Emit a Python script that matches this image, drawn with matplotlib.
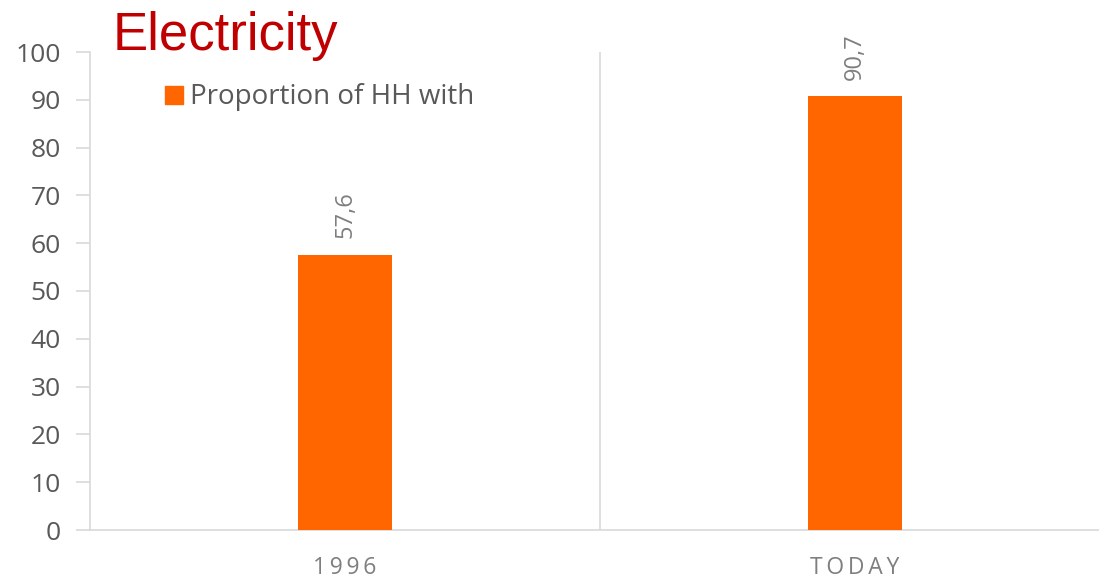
import matplotlib
matplotlib.use("Agg")
import matplotlib.pyplot as plt
from matplotlib.patches import Rectangle

categories = ["1996", "TODAY"]
values = [57.6, 90.7]
value_labels = ["57,6", "90,7"]
yticks = [0, 10, 20, 30, 40, 50, 60, 70, 80, 90, 100]
title = "Electricity"
legend_label = "Proportion of HH with"

orange = "#FF6600"
grid_col = "#D9D9D9"
tick_col = "#595959"
lab_col = "#7F7F7F"

fig = plt.figure(figsize=(10.99, 5.83), dpi=100)
ax = fig.add_axes([90/1099, 53/583, (1110-90)/1099, (530-52)/583])

x = list(range(len(categories)))
ax.bar(x, values, width=0.183, color=orange, zorder=3)
ax.set_xlim(-0.5, len(categories) - 0.5)
ax.set_ylim(0, 100)

for s in ["top", "right"]:
    ax.spines[s].set_visible(False)
for s in ["left", "bottom"]:
    ax.spines[s].set_color(grid_col)
    ax.spines[s].set_linewidth(1.2)

ax.set_yticks(yticks)
ax.set_yticklabels([str(v) for v in yticks], fontsize=19, color=tick_col, family="Open Sans")
ax.tick_params(axis="y", length=10, color=grid_col, width=1.2, pad=11)

ax.set_xticks(x)
spaced = ["\u2009".join(c) for c in categories]
ax.set_xticklabels(spaced, fontsize=16.5, color=lab_col, family="Open Sans")
ax.tick_params(axis="x", length=0, pad=19)

# category separators
for i in range(len(categories) - 1):
    ax.axvline(i + 0.5, color=grid_col, lw=1.2, zorder=1)

for xi, v, lab in zip(x, values, value_labels):
    ax.annotate(lab, (xi, v), xytext=(0, 12), textcoords="offset points",
                rotation=90, ha="center", va="bottom", fontsize=17,
                color=lab_col, family="Open Sans")

fig.text(113/1099, 1 - 50/583, title, fontsize=38, color="#C00000",
         family="Liberation Sans", ha="left", va="baseline")

fig.patches.append(Rectangle((165/1099, 1 - 104/583), 18/1099, 18/583,
                             transform=fig.transFigure, color=orange, figure=fig))
fig.text(190/1099, 1 - 97/583, legend_label, fontsize=20, color=tick_col,
         family="Open Sans", ha="left", va="center")

fig.savefig("out.png", dpi=100)
